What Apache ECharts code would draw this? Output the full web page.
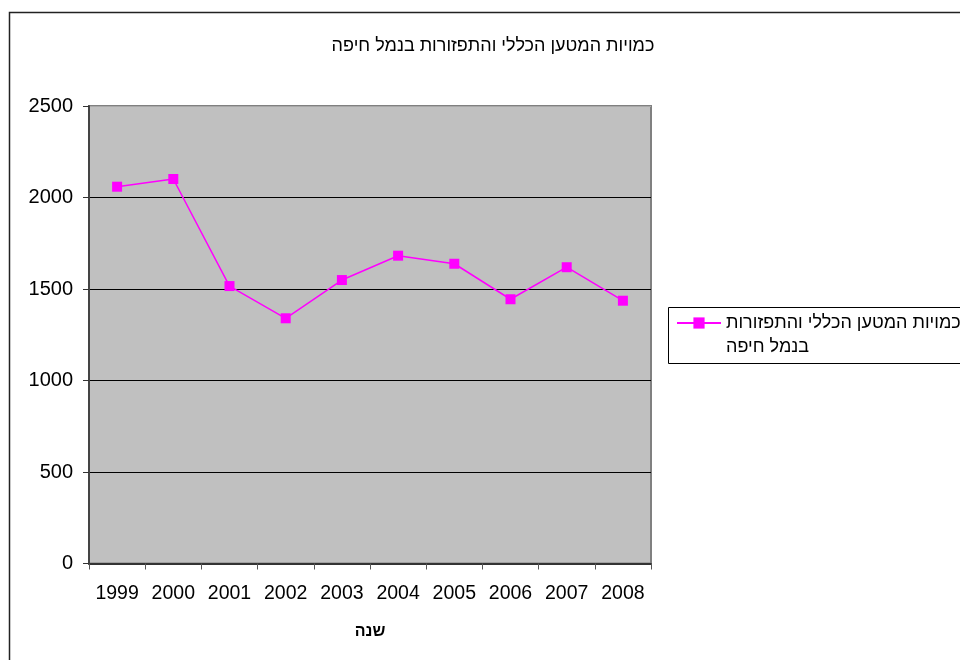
<!DOCTYPE html>
<html>
<head>
<meta charset="utf-8">
<script src="https://cdn.jsdelivr.net/npm/echarts@6/dist/echarts.min.js"></script>
<style>
  html, body { margin: 0; padding: 0; background: #fff; }
  #chart { width: 960px; height: 660px; }
</style>
</head>
<body>
<div id="chart"></div>
<script>
// Haifa port: total general cargo and bulk quantities by year
const years = ['1999', '2000', '2001', '2002', '2003', '2004', '2005', '2006', '2007', '2008'];
const cargo = [2059, 2101, 1516, 1340, 1549, 1682, 1638, 1444, 1619, 1436];
const yTicks = { min: 0, max: 2500, interval: 500 };
const chartTitle = 'כמויות המטען הכללי והתפזורות בנמל חיפה';
const seriesName = 'כמויות המטען הכללי והתפזורות בנמל חיפה';
const xAxisTitle = 'שנה';

const FONT = "'Liberation Sans', Arial, sans-serif";

const chart = echarts.init(document.getElementById('chart'), null, { renderer: 'canvas' });

chart.setOption({
  backgroundColor: '#ffffff',
  animation: false,
  textStyle: { fontFamily: FONT, color: '#000' },
  title: {
    text: chartTitle,
    left: 488,
    top: 32,
    textAlign: 'center',
    textStyle: { fontFamily: FONT, fontSize: 18, fontWeight: 'normal', color: '#000' }
  },
  graphic: [
    {
      type: 'rect', z: -1, silent: true,
      shape: { x: 9.5, y: 12.5, width: 1000, height: 700 },
      style: { fill: 'none', stroke: '#222', lineWidth: 1.5 }
    },
    {
      type: 'rect', z: -1, silent: true,
      shape: { x: 668.5, y: 307.5, width: 400, height: 56 },
      style: { fill: '#fff', stroke: '#000', lineWidth: 1 }
    }
  ],
  legend: {
    left: 676,
    top: 287,
    padding: 0,
    itemWidth: 44,
    itemHeight: 14,
    itemGap: 0,
    // the label wraps onto a second line under the first, level with the icon
    formatter: function (name) {
      const i = name.lastIndexOf(' בנמל');
      return '\n' + name.slice(0, i) + '\n' + name.slice(i + 1);
    },
    textStyle: {
      fontFamily: FONT, fontSize: 18, color: '#000', lineHeight: 24
    },
    data: [seriesName]
  },
  grid: {
    left: 89, top: 106, right: 309, bottom: 96.5,
    show: true,
    backgroundColor: '#c0c0c0',
    borderColor: '#808080',
    borderWidth: 2
  },
  xAxis: {
    type: 'category',
    data: years,
    boundaryGap: true,
    name: xAxisTitle,
    nameLocation: 'middle',
    nameGap: 60,
    nameTextStyle: { fontFamily: FONT, fontSize: 16, fontWeight: 'bold', color: '#000' },
    axisLine: { show: true, lineStyle: { color: '#333', width: 2 } },
    axisTick: { show: true, interval: 0, length: 6, lineStyle: { color: '#555', width: 1 } },
    axisLabel: { interval: 0, fontFamily: FONT, fontSize: 19.5, color: '#000', margin: 20 },
    splitLine: { show: false }
  },
  yAxis: {
    type: 'value',
    min: yTicks.min,
    max: yTicks.max,
    interval: yTicks.interval,
    axisLine: { show: true, lineStyle: { color: '#444', width: 2 } },
    axisTick: { show: true, length: 6, lineStyle: { color: '#333', width: 1 } },
    axisLabel: {
      fontFamily: FONT, fontSize: 20, color: '#000', margin: 16,
      formatter: function (v) { return String(v); }
    },
    splitLine: {
      show: true,
      lineStyle: { color: ['#000', '#000', '#000', '#000', '#000', '#a8a8a8'], width: 1 }
    }
  },
  series: [
    {
      name: seriesName,
      type: 'line',
      data: cargo,
      symbol: 'rect',
      symbolSize: 10,
      itemStyle: { color: '#ff00ff' },
      lineStyle: { color: '#ff00ff', width: 1.5 }
    }
  ]
});
</script>
</body>
</html>
